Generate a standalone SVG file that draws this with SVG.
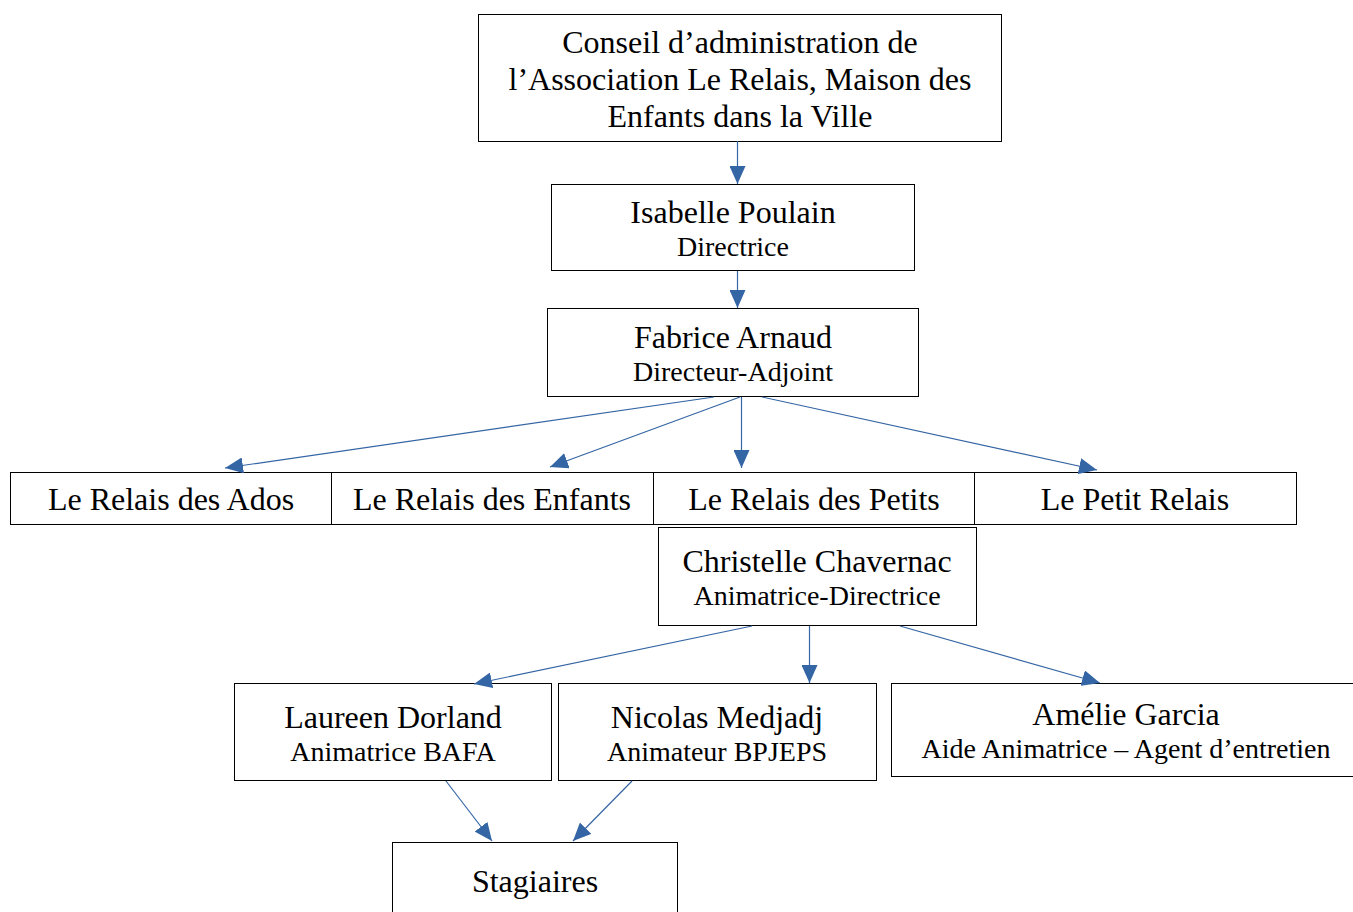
<svg xmlns="http://www.w3.org/2000/svg" width="1353" height="912" viewBox="0 0 1353 912">
<style>
rect.box{fill:#fff;stroke:#000;stroke-width:1}
text{font-family:"Liberation Serif","Times New Roman",serif;fill:#000;text-anchor:middle}
.n{font-size:32px}
.r{font-size:28px}
.c line{stroke:#3465a4;stroke-width:1.2;marker-end:url(#ah)}
</style>
<defs>
<marker id="ah" viewBox="0 0 18 16" refX="18" refY="8" markerWidth="18" markerHeight="16" markerUnits="userSpaceOnUse" orient="auto">
<path d="M0,0 L18,8 L0,16 Z" fill="#3465a4"/>
</marker>
</defs>
<rect width="1353" height="912" fill="#fff"/>
<g id="n-conseil"><rect class="box" x="478.5" y="14.5" width="523" height="127"/>
<text class="n" x="740" y="53">Conseil d’administration de</text>
<text class="n" x="740" y="90">l’Association Le Relais, Maison des</text>
<text class="n" x="740" y="127">Enfants dans la Ville</text></g>
<g id="n-isabelle"><rect class="box" x="551.5" y="184.5" width="363" height="86"/>
<text class="n" x="733" y="223">Isabelle Poulain</text>
<text class="r" x="733" y="256">Directrice</text></g>
<g id="n-fabrice"><rect class="box" x="547.5" y="308.5" width="371" height="88"/>
<text class="n" x="733" y="348">Fabrice Arnaud</text>
<text class="r" x="733" y="381">Directeur-Adjoint</text></g>
<g id="n-ados"><rect class="box" x="10.5" y="472.5" width="321" height="52"/>
<text class="n" x="171" y="510">Le Relais des Ados</text></g>
<g id="n-enfants"><rect class="box" x="331.5" y="472.5" width="322" height="52"/>
<text class="n" x="492" y="510">Le Relais des Enfants</text></g>
<g id="n-petits"><rect class="box" x="653.5" y="472.5" width="321" height="52"/>
<text class="n" x="814" y="510">Le Relais des Petits</text></g>
<g id="n-petit-relais"><rect class="box" x="974.5" y="472.5" width="322" height="52"/>
<text class="n" x="1135" y="510">Le Petit Relais</text></g>
<g id="n-christelle"><rect class="box" x="658.5" y="527.5" width="318" height="98"/>
<text class="n" x="817" y="572">Christelle Chavernac</text>
<text class="r" x="817" y="605">Animatrice-Directrice</text></g>
<g id="n-laureen"><rect class="box" x="234.5" y="683.5" width="317" height="97"/>
<text class="n" x="393" y="728">Laureen Dorland</text>
<text class="r" x="393" y="761">Animatrice BAFA</text></g>
<g id="n-nicolas"><rect class="box" x="558.5" y="683.5" width="318" height="97"/>
<text class="n" x="717" y="728">Nicolas Medjadj</text>
<text class="r" x="717" y="761">Animateur BPJEPS</text></g>
<g id="n-amelie"><rect class="box" x="891.5" y="683.5" width="470" height="93"/>
<text class="n" x="1126" y="725">Amélie Garcia</text>
<text class="r" x="1126" y="758">Aide Animatrice – Agent d’entretien</text></g>
<g id="n-stagiaires"><rect class="box" x="392.5" y="842.5" width="285" height="80"/>
<text class="n" x="535" y="892">Stagiaires</text></g>
<g id="connectors" class="c">
<line x1="737.5" y1="141" x2="737.5" y2="184"/>
<line x1="737.5" y1="271" x2="737.5" y2="308"/>
<line x1="714" y1="397" x2="225" y2="468"/>
<line x1="740" y1="397" x2="550" y2="467"/>
<line x1="741.5" y1="397" x2="741.5" y2="468"/>
<line x1="762" y1="397" x2="1097" y2="470"/>
<line x1="752" y1="626" x2="474" y2="684"/>
<line x1="809.5" y1="626" x2="809.5" y2="683"/>
<line x1="900" y1="626" x2="1100" y2="683"/>
<line x1="446" y1="781" x2="492" y2="841"/>
<line x1="632" y1="781" x2="573" y2="841"/>
</g>
</svg>
